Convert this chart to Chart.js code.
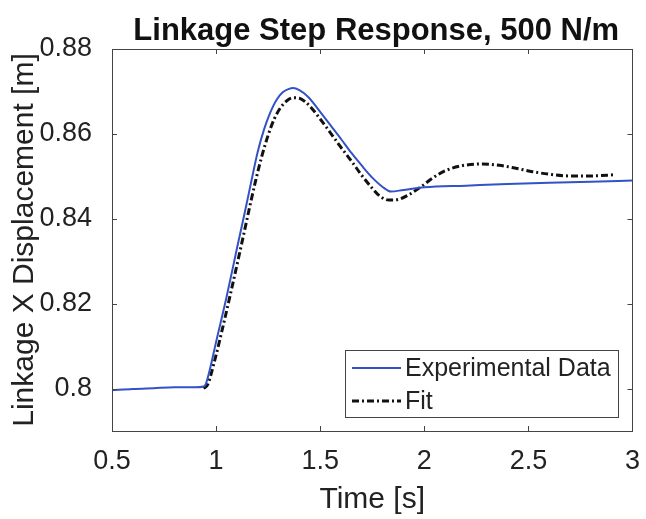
<!DOCTYPE html>
<html>
<head>
<meta charset="utf-8">
<script src="https://cdn.jsdelivr.net/npm/chart.js@4.4.1/dist/chart.umd.min.js"></script>
<style>
  html, body { margin: 0; padding: 0; background: #fff; }
  #wrap { width: 646px; height: 519px; }
</style>
</head>
<body>
<div id="wrap"><canvas id="stepChart" width="646" height="519"></canvas></div>
<script>
const timeExp = [0.50, 0.60, 0.70, 0.80, 0.90, 0.94, 0.95, 0.97, 1.00, 1.05, 1.10, 1.14, 1.17, 1.20, 1.23, 1.26,
                 1.29, 1.32, 1.35, 1.37, 1.40, 1.44, 1.50, 1.55, 1.60, 1.65, 1.70, 1.75, 1.80, 1.84, 1.90, 2.00,
                 2.20, 2.40, 2.60, 2.80, 3.00];
const dispExp = [0.7996, 0.7999, 0.8001, 0.8003, 0.8003, 0.8005, 0.8010, 0.8045, 0.8110, 0.8215, 0.8330, 0.8420, 0.8490, 0.8558, 0.8610, 0.8650,
                 0.8680, 0.8698, 0.8706, 0.8708, 0.8703, 0.8688, 0.8652, 0.8620, 0.8588, 0.8555, 0.8525, 0.8497, 0.8475, 0.8464, 0.8468, 0.8474,
                 0.8478, 0.8482, 0.8485, 0.8487, 0.8490];

// Fitted model response
const timeFit = [0.94, 0.96, 0.99, 1.03, 1.07, 1.12, 1.16, 1.19, 1.22, 1.25, 1.28, 1.31, 1.34, 1.37, 1.40, 1.43, 1.46, 1.50,
                 1.55, 1.60, 1.65, 1.70, 1.75, 1.79, 1.83, 1.87, 1.92, 1.98, 2.04, 2.10, 2.18, 2.28, 2.36, 2.44,
                 2.52, 2.60, 2.70, 2.80, 2.92];
const dispFit = [0.8000, 0.8010, 0.8060, 0.8140, 0.8225, 0.8335, 0.8425, 0.8490, 0.8548, 0.8597, 0.8636, 0.8662, 0.8678, 0.8685, 0.8684, 0.8675, 0.8660, 0.8635,
                 0.8602, 0.8568, 0.8536, 0.8502, 0.8472, 0.8452, 0.8444, 0.8445, 0.8455, 0.8474, 0.8496, 0.8513, 0.8525, 0.8529, 0.8526, 0.8519,
                 0.8511, 0.8505, 0.8501, 0.8501, 0.8504];

// Axis ticks
const xTicks = [0.5, 1, 1.5, 2, 2.5, 3];
const yTicks = [0.8, 0.82, 0.84, 0.86, 0.88];

const chartTitle = 'Linkage Step Response, 500 N/m';
const fontFamily = '"Liberation Sans", Arial, sans-serif';

const toPoints = (xs, ys) => xs.map((t, i) => ({ x: t, y: ys[i] }));

// title centred over the axes, like MATLAB does it
const axesTitle = {
    id: 'axesTitle',
    afterDraw(chart) {
        const { ctx, chartArea: a } = chart;
        ctx.save();
        ctx.font = 'bold 31px ' + fontFamily;
        ctx.fillStyle = '#111';
        ctx.textAlign = 'center';
        ctx.textBaseline = 'middle';
        ctx.fillText(chartTitle, (a.left + a.right) / 2 + 4, 31);
        ctx.restore();
    }
};

// MATLAB style box with inward tick marks on all four sides
const axisBox = {
    id: 'axisBox',
    afterDraw(chart) {
        const { ctx, chartArea: a, scales: { x, y } } = chart;
        const len = 5;
        ctx.save();
        ctx.strokeStyle = '#444';
        ctx.lineWidth = 1;
        ctx.beginPath();
        xTicks.forEach(v => {
            const px = Math.round(x.getPixelForValue(v)) + 0.5;
            ctx.moveTo(px, a.bottom); ctx.lineTo(px, a.bottom - len);
            ctx.moveTo(px, a.top); ctx.lineTo(px, a.top + len);
        });
        yTicks.forEach(v => {
            const py = Math.round(y.getPixelForValue(v)) + 0.5;
            ctx.moveTo(a.left, py); ctx.lineTo(a.left + len, py);
            ctx.moveTo(a.right, py); ctx.lineTo(a.right - len, py);
        });
        ctx.stroke();
        ctx.strokeRect(Math.round(a.left) + 0.5, Math.round(a.top) + 0.5,
                       Math.round(a.right - a.left), Math.round(a.bottom - a.top));
        ctx.restore();
    }
};

// Legend box in the lower right corner of the axes
const insideLegend = {
    id: 'insideLegend',
    afterDraw(chart) {
        const ctx = chart.ctx;
        const box = { x: 345, y: 350, w: 273, h: 67 };
        const rows = [368, 401];
        ctx.save();
        ctx.fillStyle = '#fff';
        ctx.fillRect(box.x, box.y, box.w, box.h);
        ctx.strokeStyle = '#444';
        ctx.lineWidth = 1;
        ctx.strokeRect(box.x + 0.5, box.y + 0.5, box.w, box.h);
        ctx.font = '25px ' + fontFamily;
        ctx.textBaseline = 'middle';
        ctx.fillStyle = '#222';
        chart.data.datasets.forEach((ds, i) => {
            ctx.beginPath();
            ctx.strokeStyle = ds.borderColor;
            ctx.lineWidth = ds.borderWidth;
            ctx.setLineDash(ds.borderDash || []);
            ctx.moveTo(352, rows[i]);
            ctx.lineTo(401, rows[i]);
            ctx.stroke();
            ctx.setLineDash([]);
            ctx.fillText(ds.label, 405, rows[i] + 1);
        });
        ctx.restore();
    }
};

const ctx = document.getElementById('stepChart').getContext('2d');
new Chart(ctx, {
    type: 'line',
    data: {
        datasets: [{
            label: 'Experimental Data',
            data: toPoints(timeExp, dispExp),
            borderColor: '#3352c6',
            borderWidth: 2,
            pointRadius: 0,
            cubicInterpolationMode: 'monotone',
            fill: false
        }, {
            label: 'Fit',
            data: toPoints(timeFit, dispFit),
            borderColor: '#111',
            borderWidth: 3,
            borderDash: [7, 3, 2, 3],
            pointRadius: 0,
            cubicInterpolationMode: 'monotone',
            fill: false
        }]
    },
    options: {
        responsive: false,
        animation: false,
        layout: { padding: { left: 0, right: 13, top: 49, bottom: 0 } },
        plugins: {
            legend: { display: false },
            tooltip: { enabled: false },
            title: { display: false }
        },
        scales: {
            x: {
                type: 'linear',
                min: 0.5,
                max: 3,
                afterBuildTicks: s => { s.ticks = xTicks.map(v => ({ value: v })); },
                afterFit: s => { s.height = 88; },
                grid: { display: false },
                border: { display: false },
                ticks: {
                    color: '#222',
                    padding: 6,
                    maxRotation: 0,
                    font: { family: fontFamily, size: 27 },
                    callback: v => String(+v.toFixed(2))
                },
                title: {
                    display: true,
                    text: 'Time [s]',
                    color: '#222',
                    font: { family: fontFamily, size: 30 },
                    padding: { top: 0, bottom: 1 }
                }
            },
            y: {
                min: 0.79,
                max: 0.88,
                afterBuildTicks: s => { s.ticks = yTicks.map(v => ({ value: v })); },
                afterFit: s => { s.width = 112; },
                grid: { display: false },
                border: { display: false },
                ticks: {
                    color: '#222',
                    padding: 12,
                    font: { family: fontFamily, size: 27 },
                    callback: v => String(+v.toFixed(2))
                },
                title: {
                    display: true,
                    text: 'Linkage X Displacement [m]',
                    color: '#222',
                    font: { family: fontFamily, size: 30 },
                    padding: { top: 7, bottom: 0 }
                }
            }
        }
    },
    plugins: [axesTitle, axisBox, insideLegend]
});
</script>
</body>
</html>
